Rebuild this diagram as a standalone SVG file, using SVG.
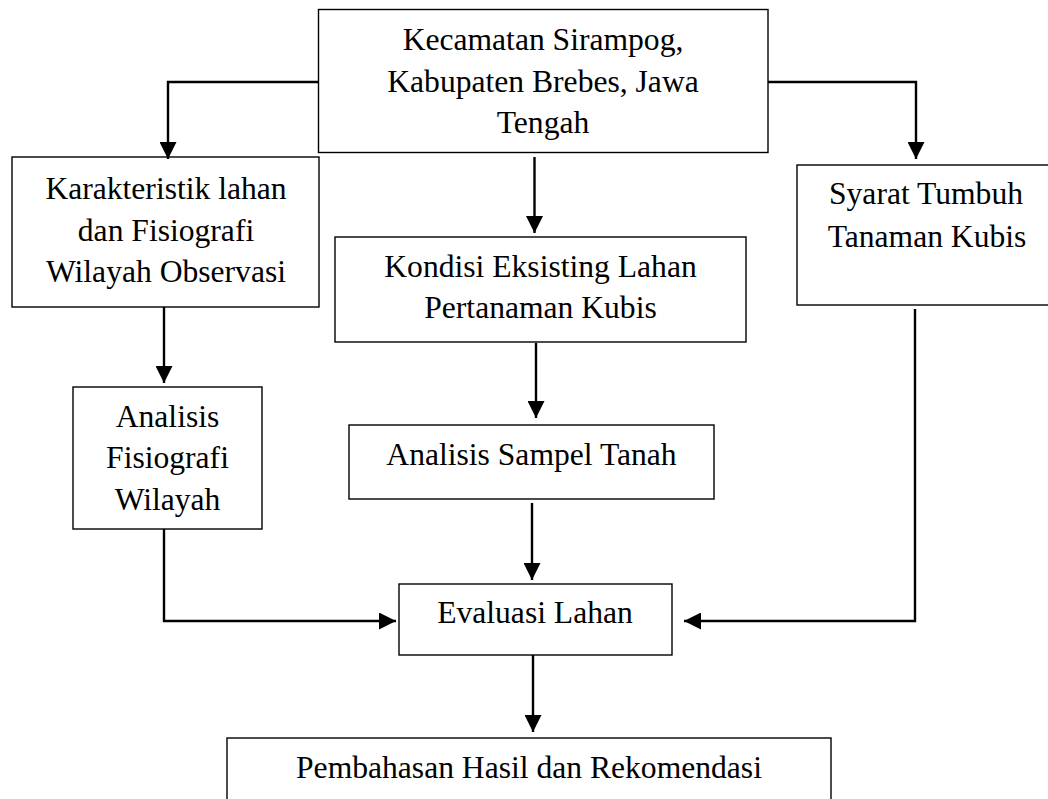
<svg xmlns="http://www.w3.org/2000/svg" width="1048" height="799" viewBox="0 0 1048 799">
<style>
.box{fill:#fff;stroke:#000;stroke-width:1.4}
.t{font-family:"Liberation Serif","Times New Roman",serif;font-size:31.6px;fill:#000;text-anchor:middle}
.c{fill:none;stroke:#000;stroke-width:2.4}
</style>
<defs>
<marker id="ah" markerUnits="userSpaceOnUse" markerWidth="17" markerHeight="17" viewBox="0 0 16 16" refX="16" refY="8" orient="auto">
<path d="M0,0 L16,8 L0,16 Z" fill="#000"/>
</marker>
</defs>
<rect width="1048" height="799" fill="#fff"/>
<g id="n-kecamatan">
<rect class="box" x="318.5" y="9.5" width="449.5" height="143"/>
<text class="t" x="543" y="50">Kecamatan Sirampog,</text>
<text class="t" x="543" y="92">Kabupaten Brebes, Jawa</text>
<text class="t" x="543" y="133">Tengah</text>
</g>
<g id="n-karakteristik">
<rect class="box" x="12" y="157" width="307" height="150"/>
<text class="t" x="166" y="199">Karakteristik lahan</text>
<text class="t" x="166" y="241">dan Fisiografi</text>
<text class="t" x="166" y="282">Wilayah Observasi</text>
</g>
<g id="n-kondisi">
<rect class="box" x="335" y="237" width="411" height="105"/>
<text class="t" x="540.5" y="277">Kondisi Eksisting Lahan</text>
<text class="t" x="540.5" y="318">Pertanaman Kubis</text>
</g>
<g id="n-syarat">
<rect class="box" x="797" y="165" width="260" height="140"/>
<text class="t" x="926" y="204">Syarat Tumbuh</text>
<text class="t" x="927" y="247">Tanaman Kubis</text>
</g>
<g id="n-analisis-fisiografi">
<rect class="box" x="73" y="387" width="189" height="142"/>
<text class="t" x="167.5" y="427">Analisis</text>
<text class="t" x="167.5" y="468">Fisiografi</text>
<text class="t" x="167.5" y="510">Wilayah</text>
</g>
<g id="n-analisis-sampel">
<rect class="box" x="349" y="425" width="365" height="74"/>
<text class="t" x="531.5" y="465">Analisis Sampel Tanah</text>
</g>
<g id="n-evaluasi">
<rect class="box" x="399" y="584" width="273" height="71"/>
<text class="t" x="535" y="623">Evaluasi Lahan</text>
</g>
<g id="n-pembahasan">
<rect class="box" x="227" y="738" width="604" height="80"/>
<text class="t" x="529" y="778">Pembahasan Hasil dan Rekomendasi</text>
</g>
<g id="connectors">
<path class="c" d="M318,82 H168 V159" marker-end="url(#ah)"/>
<path class="c" d="M768,82 H916 V159" marker-end="url(#ah)"/>
<path class="c" d="M534.5,157 V233" marker-end="url(#ah)"/>
<path class="c" d="M164,307 V383" marker-end="url(#ah)"/>
<path class="c" d="M536,343 V418" marker-end="url(#ah)"/>
<path class="c" d="M532,503 V580" marker-end="url(#ah)"/>
<path class="c" d="M164,529 V621 H396" marker-end="url(#ah)"/>
<path class="c" d="M915,309 V621 H684" marker-end="url(#ah)"/>
<path class="c" d="M533,655 V732" marker-end="url(#ah)"/>
</g>
</svg>
